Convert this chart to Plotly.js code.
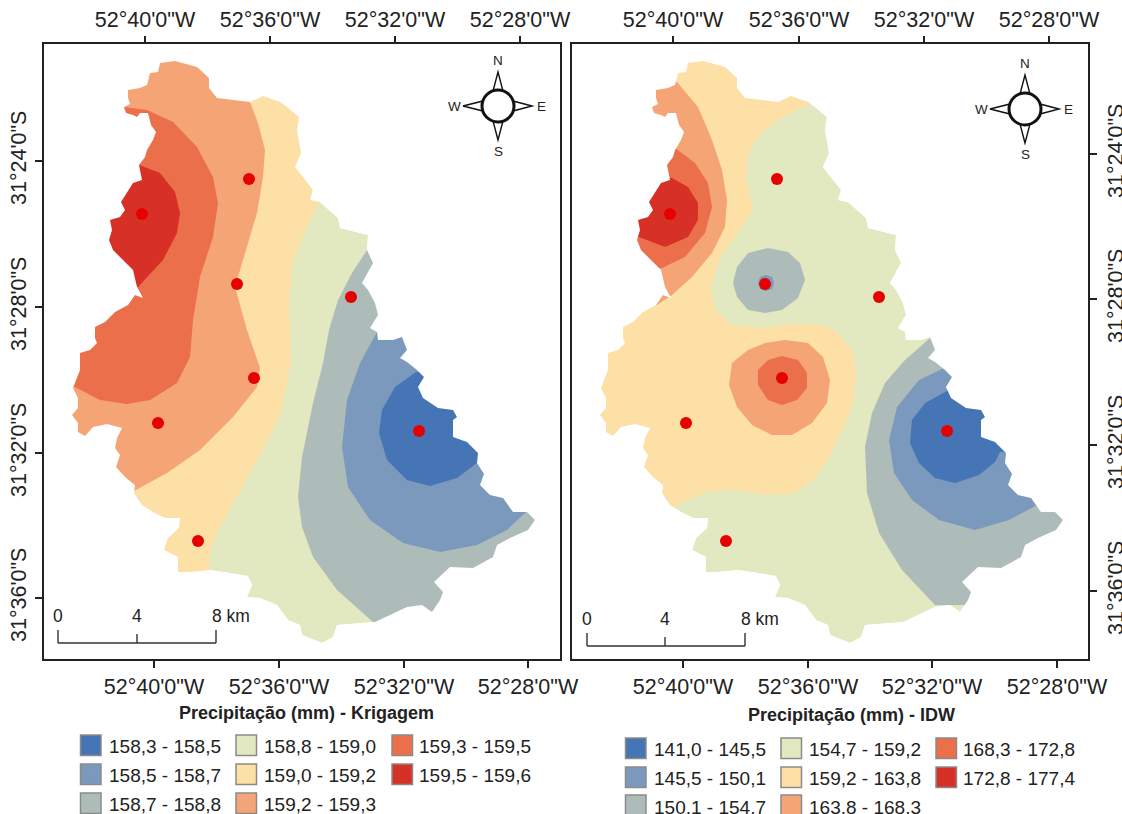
<!DOCTYPE html>
<html><head><meta charset="utf-8">
<script src="https://cdn.plot.ly/plotly-3.0.1.min.js"></script>
<style>html,body{margin:0;padding:0;background:#fff}#c{width:1122px;height:814px}</style>
</head><body><div id="c"></div>
<script>
// Map data, in a planar map grid (1 unit = 1 map cell on screen).
const colors = ['#4575b5','#7b98bd','#aebcb9','#e2e8c0','#fde0a5','#f5a475','#eb6f4b','#d73027'];
const krigLabels = ['158,3 - 158,5','158,5 - 158,7','158,7 - 158,8','158,8 - 159,0','159,0 - 159,2','159,2 - 159,3','159,3 - 159,5','159,5 - 159,6'];
const idwLabels = ['141,0 - 145,5','145,5 - 150,1','150,1 - 154,7','154,7 - 159,2','159,2 - 163,8','163,8 - 168,3','168,3 - 172,8','172,8 - 177,4'];
const lonLabels = ['52°40\'0"W','52°36\'0"W','52°32\'0"W','52°28\'0"W'];
const latLabels = ['31°24\'0"S','31°28\'0"S','31°32\'0"S','31°36\'0"S'];
const leftTopTicks = [145,270,395,520], leftBottomTicks = [154,279,404,528], leftLatTicks = [161,307,453,598];
const rightTopTicks = [145,271,396,521], rightBottomTicks = [155,280,404,529], rightLatTicks = [154,299,445,591];
const stationX = [142,249,237,351,254,158,198,419];
const stationY = [214,179,284,297,378,423,541,431];

const basin = [[175,61],[160,63],[158,72],[150,73],[147,85],[140,88],[128,90],[128,98],[130,104],[124,107],[126,113],[133,115],[137,117],[140,113],[148,113],[151,125],[156,132],[153,140],[147,150],[145,157],[139,165],[142,180],[133,183],[125,195],[121,202],[125,210],[120,217],[110,220],[112,230],[109,240],[113,250],[125,262],[133,270],[137,287],[143,298],[135,295],[128,305],[115,312],[105,322],[95,327],[95,338],[97,343],[90,350],[80,353],[80,370],[73,388],[78,398],[78,408],[72,415],[78,423],[78,432],[85,436],[93,427],[107,424],[122,428],[117,438],[115,448],[120,455],[116,467],[125,477],[135,485],[134,493],[142,505],[153,512],[165,518],[180,518],[179,528],[168,538],[164,550],[178,557],[178,572],[190,572],[210,570],[223,572],[248,576],[252,585],[247,597],[260,598],[277,605],[288,620],[300,625],[302,635],[322,643],[333,637],[337,625],[375,622],[407,607],[422,605],[432,612],[440,600],[443,592],[434,582],[450,567],[473,568],[493,557],[497,545],[510,538],[528,530],[535,520],[527,512],[513,512],[503,498],[490,495],[480,485],[484,474],[477,463],[478,453],[467,442],[453,437],[453,420],[457,417],[453,410],[438,408],[423,398],[418,387],[424,377],[417,370],[407,362],[400,358],[407,350],[402,337],[393,340],[378,340],[377,332],[370,328],[378,315],[375,303],[368,290],[362,283],[373,263],[367,250],[368,235],[340,228],[338,218],[320,202],[310,200],[313,190],[295,167],[301,153],[297,130],[299,117],[287,107],[280,102],[263,96],[250,102],[217,98],[209,88],[209,78],[197,67]];

// Krigagem classes
const kYellow = [[320,202],[305,230],[293,263],[289,300],[290,330],[291,363],[280,417],[250,473],[217,533],[210,550],[209,570],[209,600],[50,600],[50,50],[320,50]];
const kPeach = [[250,102],[258,123],[265,150],[263,177],[257,213],[247,247],[235,287],[247,330],[260,368],[257,387],[233,417],[200,450],[167,473],[134,491],[50,491],[50,50],[250,50]];
const kOrange = [[124,107],[147,110],[173,122],[197,147],[213,177],[218,203],[213,237],[200,277],[193,320],[190,357],[177,383],[150,400],[127,404],[100,400],[75,387],[50,387],[50,107]];
const kRed = [[139,165],[160,173],[175,192],[180,213],[177,233],[163,260],[138,287],[100,287],[100,165]];
const kGray = [[367,250],[352,273],[338,300],[329,330],[323,363],[313,403],[302,457],[298,497],[302,527],[313,557],[337,590],[373,622],[373,650],[558,650],[558,250]];
const kSteel = [[377,332],[360,363],[347,400],[342,447],[348,487],[370,520],[403,543],[440,552],[477,545],[507,530],[526,512],[558,512],[558,332]];
const kBlue = [[416,372],[395,387],[382,410],[379,433],[387,460],[407,480],[430,486],[457,478],[477,463],[558,463],[558,372]];

// IDW classes
const iYellow = [[284,103],[254,117],[234,132],[220,153],[218,177],[225,210],[210,233],[192,257],[183,287],[187,310],[204,325],[237,328],[270,323],[297,326],[307,330],[324,350],[328,373],[324,407],[304,453],[285,480],[267,493],[237,495],[204,489],[177,493],[160,500],[145,508],[50,508],[50,50],[284,50]];
const iPeachW = [[149,82],[170,107],[184,140],[194,170],[199,200],[197,227],[184,253],[164,277],[144,295],[129,305],[50,305],[50,82]];
const iOrangeW = [[147,148],[167,163],[180,183],[184,207],[177,233],[157,257],[134,268],[50,268],[50,148]];
const iRedW = [[144,178],[160,187],[170,203],[170,220],[160,237],[137,247],[111,237],[50,237],[50,178]];
const iGrayC = [[240,248],[260,252],[272,263],[277,280],[270,298],[254,310],[237,313],[220,310],[209,297],[205,283],[209,267],[220,253]];
const iSteelC = [[238,275],[244,277],[246,283],[244,289],[238,291],[232,289],[230,283],[232,277]];
const iPeachC = [[257,340],[280,343],[295,357],[302,380],[299,403],[284,423],[264,435],[244,435],[224,425],[209,407],[201,385],[204,363],[220,350],[237,343]];
const iOrangeC = [[254,356],[270,360],[279,373],[279,388],[269,400],[254,405],[240,400],[230,385],[230,370],[240,360]];
const iGrayE = [[402,338],[377,360],[357,383],[344,413],[337,447],[339,493],[351,533],[374,570],[407,605],[558,605],[558,338]];
const iSteelE = [[416,368],[391,380],[369,407],[361,440],[366,473],[384,500],[411,520],[447,530],[481,520],[509,505],[558,505],[558,368]];
const iBlueE = [[419,391],[397,403],[384,420],[382,443],[391,463],[407,478],[427,483],[451,475],[467,462],[472,452],[558,452],[558,391]];

const W = 1122, H = 814;
const gridRangeX = [44,560], gridRangeY = [659,44];
const px = x => x / W, py = y => 1 - y / H;
const ink = '#222222', font = 'Liberation Sans, Arial, sans-serif';

function poly(pts, color, xa, ya) {
  return {type:'scatter', mode:'lines', x:pts.map(p=>p[0]), y:pts.map(p=>p[1]), xaxis:xa, yaxis:ya,
    fill:'toself', fillcolor:color, line:{width:0, color:color}, hoverinfo:'skip', showlegend:false};
}
function maskPts() {
  const s = basin[0];
  return [[s[0],44],[560,44],[560,659],[44,659],[44,44],[s[0],44]].concat(basin, [s]);
}
function panel(layers, xa, ya, xTop) {
  const tr = [poly(basin, colors[3], xa, ya)];
  layers.forEach(l => tr.push(poly(l[0], colors[l[1]], xa, ya)));
  tr.push(poly(maskPts(), '#ffffff', xa, ya));
  tr.push({type:'scatter', mode:'markers', x:stationX, y:stationY, xaxis:xTop, yaxis:ya,
    marker:{size:12, color:'#e60000', line:{width:0}}, hoverinfo:'skip', showlegend:false});
  return tr;
}
const data = [].concat(
  panel([[kYellow,4],[kPeach,5],[kOrange,6],[kRed,7],[kGray,2],[kSteel,1],[kBlue,0]], 'x', 'y', 'x3'),
  panel([[iYellow,4],[iPeachW,5],[iOrangeW,6],[iRedW,7],[iGrayC,2],[iSteelC,1],[iPeachC,5],[iOrangeC,6],[iGrayE,2],[iSteelE,1],[iBlueE,0]], 'x2', 'y2', 'x4')
);

function xAxis(ticks, dom, extra) {
  return Object.assign({domain:dom, range:gridRangeX, tickmode:'array', tickvals:ticks, ticktext:lonLabels,
    ticks:'outside', ticklen:7, tickwidth:1.5, tickcolor:ink, tickfont:{family:font, size:21.5, color:ink},
    showgrid:false, zeroline:false, fixedrange:true, tickangle:0}, extra);
}
function yAxis(ticks, extra) {
  return Object.assign({domain:[py(659), py(44)], range:gridRangeY, tickmode:'array', tickvals:ticks, ticktext:latLabels,
    ticks:'outside', ticklen:7, tickwidth:1.5, tickcolor:ink, tickfont:{family:font, size:21.5, color:ink},
    showgrid:false, zeroline:false, fixedrange:true, tickangle:-90}, extra);
}
const frame = {showline:true, mirror:true, linecolor:ink, linewidth:2};
const domL = [px(44), px(560)], domR = [px(572), px(1088)];

const shapes = [], annotations = [];
function text(x, y, t, size, anchor, bold) {
  annotations.push({xref:'paper', yref:'paper', x:px(x), y:py(y), text:bold?'<b>'+t+'</b>':t, showarrow:false,
    xanchor:anchor, yanchor:'middle', font:{family:font, size:size, color:ink}, borderpad:0, borderwidth:0});
}
function pathShape(d, fill, lw) {
  shapes.push({type:'path', xref:'paper', yref:'paper', path:d, fillcolor:fill, line:{color:'#111', width:lw}});
}
function P(x,y){ return px(x)+','+py(y); }
function compass(cx, cy, nTip, sTip, wTip, eTip, ty, by, lx, rx) {
  const r = 17, w = 5;
  pathShape(`M${P(cx,nTip)} L${P(cx-w,cy-r+2)} L${P(cx+w,cy-r+2)} Z`, '#ffffff', 1.4);
  pathShape(`M${P(cx,sTip)} L${P(cx-w,cy+r-2)} L${P(cx+w,cy+r-2)} Z`, '#ffffff', 1.4);
  pathShape(`M${P(wTip,cy)} L${P(cx-r+2,cy-w)} L${P(cx-r+2,cy+w)} Z`, '#ffffff', 1.4);
  pathShape(`M${P(eTip,cy)} L${P(cx+r-2,cy-w)} L${P(cx+r-2,cy+w)} Z`, '#ffffff', 1.4);
  shapes.push({type:'circle', xref:'paper', yref:'paper', x0:px(cx-r+1), x1:px(cx+r-1), y0:py(cy+r-1), y1:py(cy-r+1),
    fillcolor:'#ffffff', line:{color:'#111', width:3}});
  text(cx, ty, 'N', 13.5, 'center'); text(cx, by, 'S', 13.5, 'center');
  text(lx, cy, 'W', 13.5, 'center'); text(rx, cy, 'E', 13.5, 'center');
}
function scaleBar(x0, x4, x8, y, ly) {
  const sub = (a,b,c,d) => shapes.push({type:'line', xref:'paper', yref:'paper', x0:px(a), y0:py(b), x1:px(c), y1:py(d), line:{color:'#333', width:1.4}});
  sub(x0,y,x8,y); sub(x0,y-13,x0,y); sub(x4,y-9,x4,y); sub(x8,y-13,x8,y);
  text(x0, ly, '0', 17.5, 'center'); text(x4, ly, '4', 17.5, 'center');
  text(x8-4, ly, '8 km', 17.5, 'left');
}
function legend(labels, title, tx, ty, swX, txtX, rowsTop, rowsMid, size) {
  text(tx, ty, title, 18, 'center', true);
  labels.forEach((l,i) => {
    const col = i < 3 ? 0 : (i < 6 ? 1 : 2), row = i < 3 ? i : (i < 6 ? i-3 : i-6);
    shapes.push({type:'rect', xref:'paper', yref:'paper', x0:px(swX[col]), x1:px(swX[col]+20.5), y0:py(rowsTop[row]+20.5), y1:py(rowsTop[row]),
      fillcolor:colors[i], line:{color:'#8a8a8a', width:1.5}});
    text(txtX[col], rowsMid[row], l, size, 'left');
  });
}
compass(498,106, 72,140,463,532, 61,151,454,541);
compass(1025,109, 75,143,990,1059, 63,154,981,1068);
scaleBar(58,137,216,643,616);
scaleBar(587,665,745,646,619);
legend(krigLabels, 'Precipitação (mm) - Krigagem', 306, 713, [80.5,236,392], [109,264,419], [735,764,793], [746,775,804], 19);
legend(idwLabels, 'Precipitação (mm) - IDW', 851, 715, [625.5,781,936], [654,809,963], [738,767,795], [749,778,807], 19);

const layout = {
  width:W, height:H, margin:{l:0,r:0,t:0,b:0,pad:0}, paper_bgcolor:'#fff', plot_bgcolor:'#fff', showlegend:false,
  xaxis:  xAxis(leftBottomTicks,  domL, Object.assign({anchor:'y', side:'bottom'}, frame)),
  xaxis3: xAxis(leftTopTicks,     domL, {anchor:'y', side:'top', overlaying:'x'}),
  xaxis2: xAxis(rightBottomTicks, domR, Object.assign({anchor:'y2', side:'bottom'}, frame)),
  xaxis4: xAxis(rightTopTicks,    domR, {anchor:'y2', side:'top', overlaying:'x2'}),
  yaxis:  yAxis(leftLatTicks,  Object.assign({anchor:'x', side:'left'}, frame)),
  yaxis2: yAxis(rightLatTicks, Object.assign({anchor:'x2', side:'right'}, frame)),
  shapes:shapes, annotations:annotations
};
Plotly.newPlot('c', data, layout, {staticPlot:true, displayModeBar:false});
</script></body></html>
